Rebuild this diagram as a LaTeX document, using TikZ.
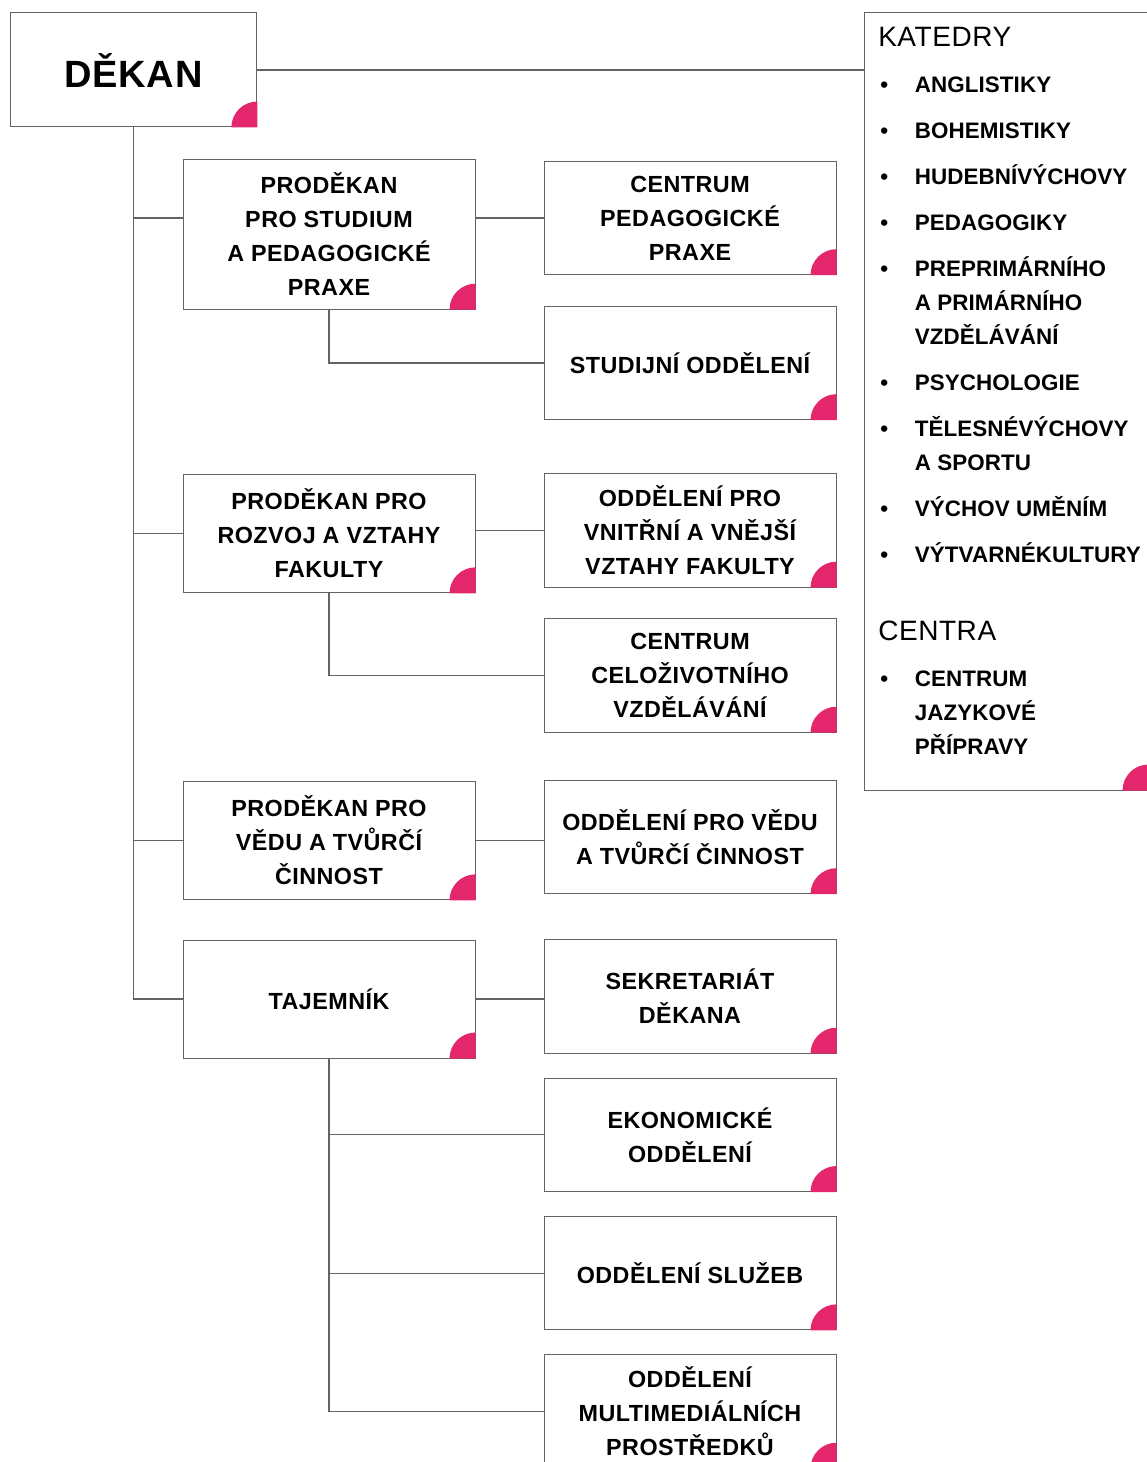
\documentclass[tikz,border=0pt]{standalone}
\usepackage{fontspec}
\setmainfont{Liberation Sans}[LetterSpace=2]
\usepackage{xcolor}
\usetikzlibrary{positioning}

\definecolor{linegray}{RGB}{100,100,100}
\definecolor{curlpink}{RGB}{228,38,108}

\begin{document}
\begin{tikzpicture}[x=0.75pt, y=-0.75pt, node distance=18pt,
    unitbox/.style={draw=linegray, line width=0.75pt, fill=white, rectangle, align=center,
        minimum width=219pt, minimum height=85pt, inner sep=2pt,
        font=\fontsize{17.5}{25.5}\selectfont\bfseries},
    listtext/.style={anchor=base west, inner sep=0pt,
        font=\fontsize{16.8}{25.5}\selectfont\bfseries\addfontfeatures{LetterSpace=0.3}},
    headtext/.style={anchor=base west, inner sep=0pt, font=\fontsize{21}{25}\selectfont},
    link/.style={draw=linegray, line width=0.8pt},
    curl/.style={fill=curlpink}]
    \useasboundingbox (0,0) rectangle (1146,1462);

    % Nodes
    \node[unitbox, minimum width=185pt, minimum height=85.5pt,
          font=\fontsize{28.5}{34}\selectfont\bfseries] (dekan) at (133.5,70) {DĚKAN};

    \node[unitbox, minimum height=112pt] (prod1) at (329,234.5) {PRODĚKAN\\PRO STUDIUM\\A PEDAGOGICKÉ\\PRAXE};
    \node[unitbox] (cpp) at (690,218) {CENTRUM\\PEDAGOGICKÉ\\PRAXE};
    \node[unitbox, below=23pt of cpp] (stud) {STUDIJNÍ ODDĚLENÍ};

    \node[unitbox, minimum height=89pt] (prod2) at (329,533.5) {PRODĚKAN PRO\\ROZVOJ A VZTAHY\\FAKULTY};
    \node[unitbox] (ovv) at (690,530.5) {ODDĚLENÍ PRO\\VNITŘNÍ A VNĚJŠÍ\\VZTAHY FAKULTY};
    \node[unitbox, below=23pt of ovv] (ccv) {CENTRUM\\CELOŽIVOTNÍHO\\VZDĚLÁVÁNÍ};

    \node[unitbox, minimum height=89pt] (prod3) at (329,840.5) {PRODĚKAN PRO\\VĚDU A TVŮRČÍ\\ČINNOST};
    \node[unitbox] (ovt) at (690,837) {ODDĚLENÍ PRO VĚDU\\A TVŮRČÍ ČINNOST};

    \node[unitbox, minimum height=88.5pt] (taj) at (329,999) {TAJEMNÍK};
    \node[unitbox] (sek) at (690,996.5) {SEKRETARIÁT\\DĚKANA};
    \node[unitbox, below=of sek] (eko) {EKONOMICKÉ\\ODDĚLENÍ};
    \node[unitbox, below=of eko] (sluz) {ODDĚLENÍ SLUŽEB};
    \node[unitbox, below=of sluz] (mult) {ODDĚLENÍ\\MULTIMEDIÁLNÍCH\\PROSTŘEDKŮ};

    % Katedry and centra
    \node[unitbox, minimum width=213pt, minimum height=582.75pt] (katedry) at (1006,401.5) {};
    \node[headtext] (kathead) at (878,47) {KATEDRY};
    \node[listtext] (katlist) at (880,92.5) {%
        \begin{tabular}[t]{@{}p{26pt}@{}l@{}}
        \textbullet & ANGLISTIKY \\[9pt]
        \textbullet & BOHEMISTIKY \\[9pt]
        \textbullet & HUDEBNÍVÝCHOVY \\[9pt]
        \textbullet & PEDAGOGIKY \\[9pt]
        \textbullet & PREPRIMÁRNÍHO \\
                    & A PRIMÁRNÍHO \\
                    & VZDĚLÁVÁNÍ \\[9pt]
        \textbullet & PSYCHOLOGIE \\[9pt]
        \textbullet & TĚLESNÉVÝCHOVY \\
                    & A SPORTU \\[9pt]
        \textbullet & VÝCHOV UMĚNÍM \\[9pt]
        \textbullet & VÝTVARNÉKULTURY
        \end{tabular}};
    \node[headtext] (centhead) at (878,640) {CENTRA};
    \node[listtext] (centlist) at (880,686.5) {%
        \begin{tabular}[t]{@{}p{26pt}@{}l@{}}
        \textbullet & CENTRUM \\
                    & JAZYKOVÉ \\
                    & PŘÍPRAVY
        \end{tabular}};

    % Lines
    \draw[link] (dekan.east) -- (dekan.east -| katedry.west);
    \draw[link] (dekan.south) |- (prod1.west |- cpp);
    \draw[link] (dekan.south) |- (prod2.west);
    \draw[link] (dekan.south) |- (prod3.west);
    \draw[link] (dekan.south) |- (taj.west);

    \draw[link] (prod1.east |- cpp) -- (cpp.west);
    \draw[link] (prod1.south) |- (stud.west);
    \draw[link] (prod2.east |- ovv) -- (ovv.west);
    \draw[link] (prod2.south) |- (ccv.west);
    \draw[link] (prod3.east) -- (prod3.east -| ovt.west);
    \draw[link] (taj.east) -- (taj.east -| sek.west);
    \foreach \n in {eko, sluz, mult}
        \draw[link] (taj.south) |- (\n.west);

    % Corner curls
    \foreach \n in {dekan, prod1, cpp, stud, prod2, ovv, ccv, prod3, ovt, taj, sek, eko, sluz, mult, katedry}
        \fill[curl] (\n.south east) -- ++(-26,0) arc[start angle=180, end angle=270, radius=26] -- cycle;
\end{tikzpicture}
\end{document}
